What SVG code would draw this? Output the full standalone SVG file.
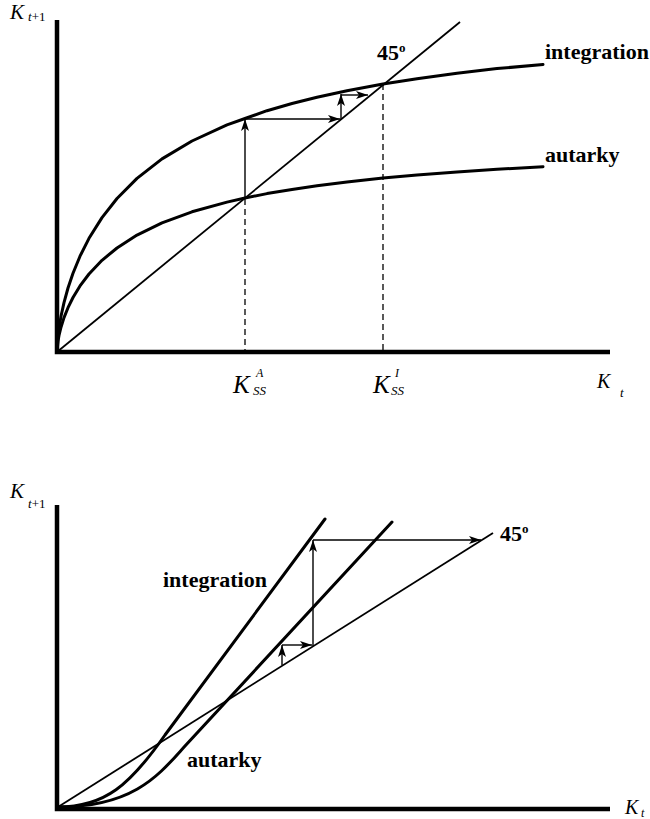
<svg xmlns="http://www.w3.org/2000/svg" width="650" height="819" viewBox="0 0 650 819">
<style>
.ax{fill:none;stroke:#000;stroke-width:4.5;stroke-linejoin:miter}
.cv{fill:none;stroke:#000;stroke-width:3;stroke-linejoin:round;stroke-linecap:round}
.ln{fill:none;stroke:#000;stroke-width:1.8}
.ar{fill:none;stroke:#000;stroke-width:1.4;marker-end:url(#ah)}
.ds{fill:none;stroke:#000;stroke-width:1.3;stroke-dasharray:6,4}
.it{font-family:"Liberation Serif","Times New Roman",serif;font-style:italic;fill:#000}
.bd{font-family:"Liberation Serif","Times New Roman",serif;font-weight:bold;fill:#000}
</style>
<defs>
<marker id="ah" viewBox="0 0 12 8" refX="12" refY="4" markerWidth="12" markerHeight="8" orient="auto" markerUnits="userSpaceOnUse">
<path d="M0,0 L12,4 L0,8 L3,4 z" fill="#000"/>
</marker>
</defs>
<rect width="650" height="819" fill="#fff"/>

<!-- TOP DIAGRAM -->
<g id="top-axes">
<path class="ax" d="M57,20 L57,352 L610,352"/>
</g>
<g id="top-connectors">
<line class="ln" x1="57" y1="352" x2="460" y2="22"/>
<line class="ds" x1="245" y1="199" x2="245" y2="350"/>
<line class="ds" x1="383" y1="84" x2="383" y2="350"/>
<line class="ar" x1="245" y1="197" x2="245" y2="119"/>
<line class="ar" x1="245" y1="119" x2="340" y2="119"/>
<line class="ar" x1="341" y1="119" x2="341" y2="94"/>
<line class="ar" x1="341" y1="95" x2="368" y2="95"/>
</g>
<g id="top-integration">
<polyline class="cv" points="57,352 58,336.3 59,328.3 61,316.3 64,302.6 68,288 73,273.2 80,256.2 89,238.3 102,217.6 117,198.5 137,178.4 162,158.9 192,141 227,124.8 245,118.5 267,110.7 292,103.5 317,97.2 347,90.7 383,84 417,78.7 457,73.2 497,68.6 543,64.5"/>
<text class="bd" x="545" y="59" font-size="22">integration</text>
</g>
<g id="top-autarky">
<polyline class="cv" points="57,352 58,341.1 59,335.5 61,327.2 64,317.6 68,307.7 73,297.5 80,285.9 89,274 102,260.3 117,248 137,235.1 162,222.8 192,211.8 227,202.1 245,198 267,193.6 292,189.4 317,185.7 347,181.9 383,178.1 417,175 457,171.9 497,169.3 543,166.7"/>
<text class="bd" x="545" y="162" font-size="22">autarky</text>
</g>
<g id="top-labels">
<text class="it" x="10" y="19" font-size="21">K</text>
<text class="it" x="28" y="21" font-size="13">t<tspan font-style="normal">+1</tspan></text>
<text class="it" x="597" y="388" font-size="20">K</text>
<text class="it" x="620" y="397" font-size="13">t</text>
<text class="it" x="233" y="393" font-size="25">K</text>
<text class="it" x="256" y="377" font-size="12">A</text>
<text class="it" x="253" y="395" font-size="13">SS</text>
<text class="it" x="373" y="393" font-size="25">K</text>
<text class="it" x="395" y="377" font-size="12">I</text>
<text class="it" x="391" y="395" font-size="13">SS</text>
<text class="bd" x="377" y="60" font-size="22">45</text>
<text class="bd" x="399" y="52" font-size="13">o</text>
</g>

<!-- BOTTOM DIAGRAM -->
<g id="bottom-axes">
<path class="ax" d="M57,505 L57,809 L610,809"/>
</g>
<g id="bottom-connectors">
<line class="ln" x1="58" y1="807" x2="493" y2="533"/>
<line class="ar" x1="282" y1="665" x2="282" y2="645"/>
<line class="ar" x1="282" y1="645" x2="312" y2="645"/>
<line class="ar" x1="313" y1="646" x2="313" y2="540"/>
<line class="ar" x1="313" y1="540" x2="481" y2="540"/>
</g>
<g id="bottom-integration">
<path class="cv" d="M58,807 C105,807 130,785 165,735 L325,519"/>
<text class="bd" x="163" y="587" font-size="22">integration</text>
</g>
<g id="bottom-autarky">
<path class="cv" d="M58,807 C135,807 160,773.5 185,746 L392,522"/>
<text class="bd" x="187" y="767" font-size="22">autarky</text>
</g>
<g id="bottom-labels">
<text class="it" x="10" y="498" font-size="21">K</text>
<text class="it" x="28" y="508" font-size="13">t<tspan font-style="normal">+1</tspan></text>
<text class="it" x="625" y="814" font-size="20">K</text>
<text class="it" x="641" y="817" font-size="12">t</text>
<text class="bd" x="500" y="541" font-size="22">45</text>
<text class="bd" x="522" y="533" font-size="13">o</text>
</g>
</svg>
